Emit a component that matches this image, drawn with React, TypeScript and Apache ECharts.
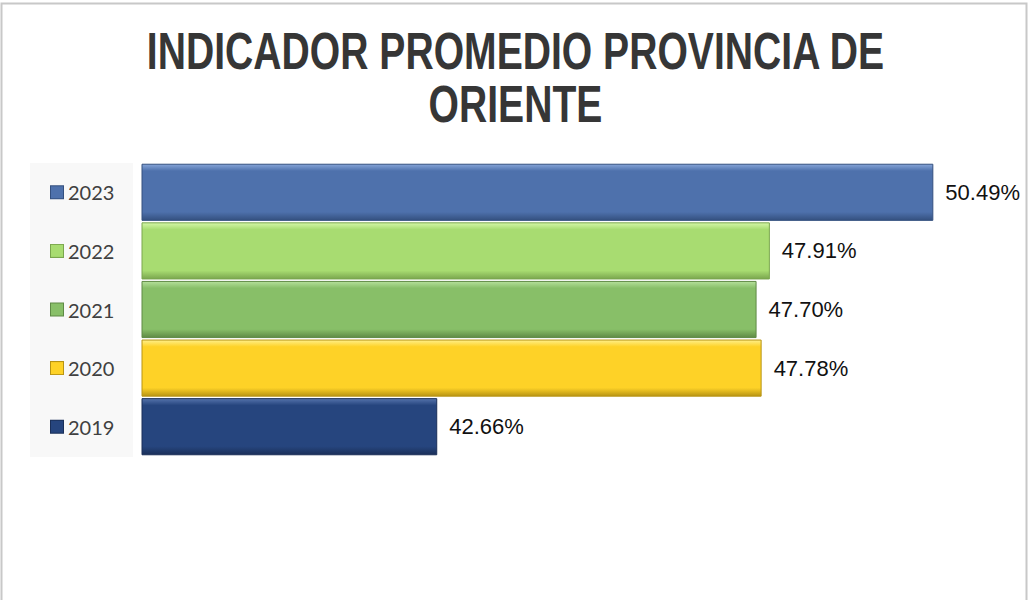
import React, { useEffect, useRef } from "react";
import * as echarts from "echarts";

const categories = ["2019", "2020", "2021", "2022", "2023"];
const values = [42.66, 47.78, 47.7, 47.91, 50.49];
const titleLines = ["INDICADOR PROMEDIO PROVINCIA DE", "ORIENTE"];

const mainColors = ["#26457e", "#fed227", "#88bf68", "#a8dc71", "#4e71ac"];
const lightColors = ["#5573ab", "#fff08a", "#b5e09a", "#d4f7a8", "#86a5d8"];
const darkColors = ["#1a2f58", "#b89414", "#5e8a45", "#7aa64e", "#34507f"];

export default function App() {
  const ref = useRef<HTMLDivElement>(null);
  useEffect(() => {
    if (!ref.current) return;
    const chart = echarts.init(ref.current, undefined, { renderer: "svg" });
    const rich: any = {
      t: { fontFamily: "Lato", fontSize: 20, color: "#404040", padding: [0, 0, 0, 5] },
    };
    categories.forEach((c, i) => {
      rich["s" + i] = {
        width: 12,
        height: 12,
        backgroundColor: mainColors[i],
        borderColor: darkColors[i],
        borderWidth: 1,
      };
    });
    chart.setOption({
      animation: false,
      backgroundColor: "#ffffff",
      graphic: [
        {
          type: "rect",
          shape: { x: 1.5, y: 3.5, width: 1025, height: 610 },
          style: { fill: "none", stroke: "#c8c8c8", lineWidth: 2 },
          silent: true,
          z: -10,
        },
        {
          type: "rect",
          shape: { x: 30, y: 163, width: 103, height: 294 },
          style: { fill: "#f8f8f8" },
          silent: true,
          z: -10,
        },
        {
          type: "text",
          x: 515.5,
          y: 52,
          scaleX: 0.767,
          style: {
            text: titleLines[0],
            font: 'bold 51px "Liberation Sans", Arial, sans-serif',
            fill: "#363636",
            align: "center",
            verticalAlign: "middle",
          },
        },
        {
          type: "text",
          x: 515.5,
          y: 105,
          scaleX: 0.767,
          style: {
            text: titleLines[1],
            font: 'bold 51px "Liberation Sans", Arial, sans-serif',
            fill: "#363636",
            align: "center",
            verticalAlign: "middle",
          },
        },
      ],
      grid: { left: 142, right: 0, top: 163, height: 293, containLabel: false },
      xAxis: {
        type: "value",
        min: 38,
        max: 52,
        show: false,
      },
      yAxis: {
        type: "category",
        data: categories,
        axisLine: { show: false },
        axisTick: { show: false },
        axisLabel: {
          align: "left",
          margin: 91,
          formatter: (v: string) => {
            const i = categories.indexOf(v);
            return "{s" + i + "|}{t|" + v + "}";
          },
          rich,
        },
      },
      series: [
        {
          type: "bar",
          barCategoryGap: "2.5%",
          data: values.map((v, i) => ({
            value: v,
            itemStyle: {
              color: {
                type: "linear",
                x: 0,
                y: 0,
                x2: 0,
                y2: 1,
                colorStops: [
                  { offset: 0, color: lightColors[i] },
                  { offset: 0.12, color: mainColors[i] },
                  { offset: 0.85, color: mainColors[i] },
                  { offset: 1, color: darkColors[i] },
                ],
              },
              borderColor: darkColors[i],
              borderWidth: 1,
            },
          })),
          label: {
            show: true,
            position: "right",
            distance: 12,
            formatter: (p: any) => p.value.toFixed(2) + "%",
            fontFamily: '"Liberation Sans", Arial, sans-serif',
            fontSize: 22,
            color: "#111111",
          },
        },
      ],
    });
    return () => chart.dispose();
  }, []);
  return (
    <div
      ref={ref}
      style={{ position: "fixed", left: 0, top: 0, width: 1029, height: 600 }}
    />
  );
}
